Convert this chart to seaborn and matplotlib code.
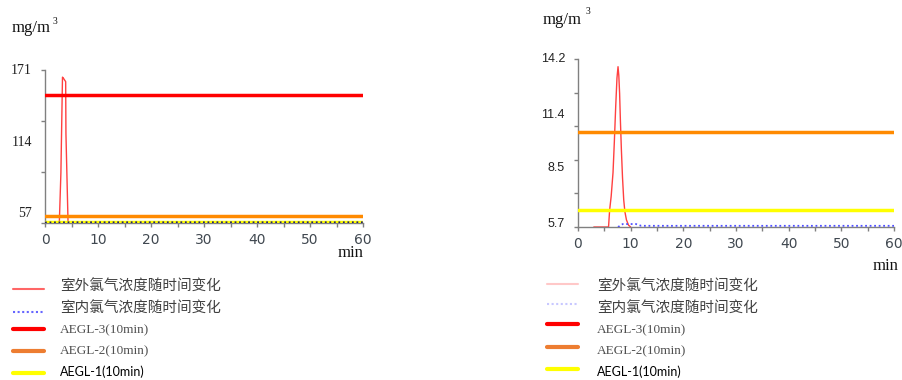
"""Outdoor / indoor chlorine concentration vs AEGL thresholds, two panels."""

import matplotlib.pyplot as plt
from matplotlib.lines import Line2D
import seaborn as sns

# left panel (mg/m3 over minutes)
left_out_t = [2.7, 3.0, 3.3, 3.45, 3.9, 3.95, 4.35]
left_out_v = [0, 56, 163, 162, 158, 100, 0]
left_in_t = [0, 5, 60]
left_in_v = [0.6, 0.8, 0.8]

# right panel
right_out_t = [3.0, 5.8, 6.0, 6.3, 6.65, 6.9, 7.16, 7.4, 7.6, 7.75, 7.9, 8.05, 8.24,
               8.45, 8.68, 8.9, 9.2, 9.6, 10.0]
right_out_v = [0, 0, 1.4, 2.6, 4.6, 7.2, 10.2, 12.6, 13.55, 12.8, 11.3, 9.0, 6.5,
               4.2, 2.3, 1.3, 0.6, 0.15, 0]
right_in_t = [7.6, 8.5, 11, 12, 60]
right_in_v = [0, 0.25, 0.25, 0.1, 0.1]

aegl_labels = ["AEGL-3(10min)", "AEGL-2(10min)", "AEGL-1(10min)"]
aegl_values = [143, 8.0, 1.4]
series_labels = ["室外氯气浓度随时间变化", "室内氯气浓度随时间变化"]

x_ticks = [0, 10, 20, 30, 40, 50, 60]
left_yticks = [0, 57, 114, 171]
left_ylabels = ["171", "114", "57"]
right_yticks = [0, 2.84, 5.68, 8.52, 11.36, 14.2]
right_ylabels = ["14.2", "11.4", "8.5", "5.7"]

W, H = 902, 380
CJK = ["Noto Sans CJK SC", "DejaVu Sans"]
SERIF = "Liberation Serif"


def fx(x):
    return x / W


def fy(y):
    return 1 - y / H


def draw_panel(ax, out_t, out_v, in_t, in_v, ymax, yticks, ylabels, label_pos,
               out_color, in_color, label_font, label_size):
    sns.lineplot(x=out_t, y=out_v, ax=ax, color=out_color, lw=1.0, zorder=2)
    sns.lineplot(x=in_t, y=in_v, ax=ax, color=in_color, lw=1.3, linestyle=(0, (1, 1.5)), zorder=5)
    for v, c in zip(aegl_values, ["#ff0000", "#ff8a00", "#ffff00"]):
        ax.axhline(v, color=c, lw=2.5, zorder=3)

    ax.set_xlim(0, 60)
    ax.set_ylim(0, ymax)
    ax.set_xticks(x_ticks)
    ax.set_xticks(range(5, 60, 10), minor=True)
    ax.set_yticks(yticks)
    ax.set_yticklabels([])
    ax.tick_params(axis="both", which="both", direction="out", length=3, width=1,
                   color="#808080", left=True, bottom=True)
    ax.tick_params(axis="x", labelsize=10, labelcolor="#404850", pad=4)
    for side in ["top", "right"]:
        ax.spines[side].set_visible(False)
    for side in ["left", "bottom"]:
        ax.spines[side].set_color("#808080")
        ax.spines[side].set_linewidth(1)
    ax.set_xlabel("")
    ax.set_ylabel("")

    # tick labels in the source sit off their tick marks; keep that look
    for lab, frac in zip(ylabels, label_pos):
        ax.text(-0.041, frac, lab, transform=ax.transAxes, ha="right", va="center",
                fontsize=label_size, family=label_font, color="#222222")


def draw_legend(hx0, hx1, tx, handle_y, out_color, in_color):
    styles = [
        dict(color=out_color, lw=1.5, ls="-"),
        dict(color=in_color, lw=1.5, ls=(0, (1, 1.2))),
        dict(color="#ff0000", lw=3.0, ls="-"),
        dict(color="#ed7d31", lw=3.0, ls="-"),
        dict(color="#ffff00", lw=3.0, ls="-"),
    ]
    for y, st in zip(handle_y, styles):
        fig.add_artist(Line2D([fx(hx0), fx(hx1)], [fy(y), fy(y)], transform=fig.transFigure, **st))

    labels = series_labels + aegl_labels
    text_y = [287, 309, 330, 351, 372]
    fonts = [CJK, CJK, [SERIF], [SERIF], ["Lato", "DejaVu Sans"]]
    sizes = [10.5, 10.5, 9.5, 9.5, 9]
    colors = ["#404040", "#404040", "#505050", "#505050", "#000000"]
    for lab, y, f, s, c in zip(labels, text_y, fonts, sizes, colors):
        fig.text(fx(tx), fy(y), lab, family=f, fontsize=s, color=c, ha="left", va="center")


sns.set_theme(style="white")
plt.rcParams["font.family"] = ["DejaVu Sans"]

fig = plt.figure(figsize=(W / 100, H / 100), dpi=100)
ax_l = fig.add_axes([fx(45), fy(223), fx(363 - 45), (223 - 70) / H])
ax_r = fig.add_axes([fx(578), fy(227), fx(894 - 578), (227 - 59) / H])

draw_panel(ax_l, left_out_t, left_out_v, left_in_t, left_in_v, 171, left_yticks, left_ylabels,
           [1.0, 0.523, 0.059], "#ff4040", "#202070", SERIF, 10)
draw_panel(ax_r, right_out_t, right_out_v, right_in_t, right_in_v, 14.2, right_yticks, right_ylabels,
           [1.0, 0.667, 0.351, 0.018], "#ff4040", "#5050ff", "Liberation Sans", 9)

# units
fig.text(fx(12), fy(28), "mg/m", family=SERIF, fontsize=12, color="#111111", va="center")
fig.text(fx(53), fy(21), "3", family=SERIF, fontsize=7, color="#111111", va="center")
fig.text(fx(543), fy(20), "mg/m", family=SERIF, fontsize=12, color="#111111", va="center")
fig.text(fx(586), fy(11), "3", family=SERIF, fontsize=7, color="#111111", va="center")
fig.text(fx(338), fy(253), "min", family=SERIF, fontsize=12, color="#111111", va="center")
fig.text(fx(873), fy(266), "min", family=SERIF, fontsize=12, color="#111111", va="center")

draw_legend(13, 44, 60, [289, 312, 329, 351, 373], "#ff6666", "#6666ff")
draw_legend(547, 578, 597, [284, 304, 324, 347, 369], "#ffc8c8", "#c8c8ff")

fig.savefig("out.png", dpi=100)
